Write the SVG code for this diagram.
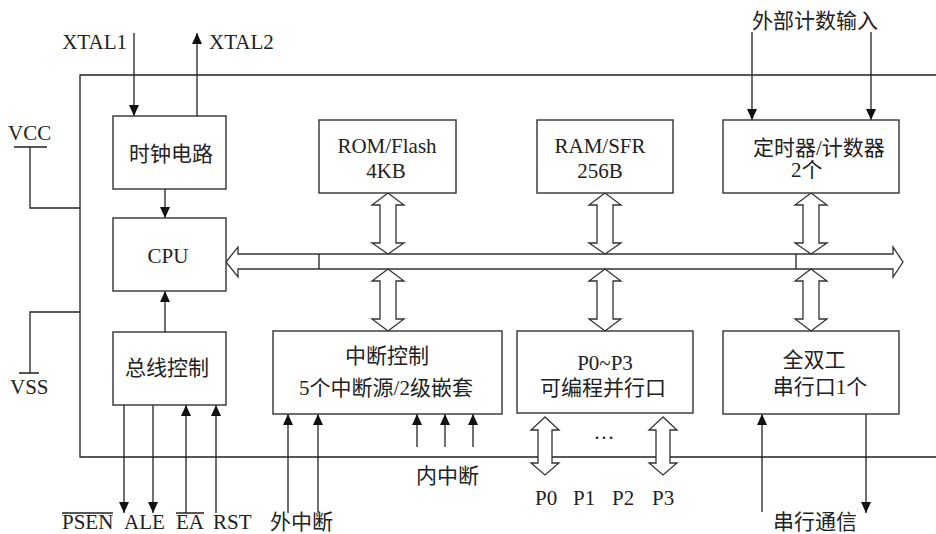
<svg xmlns="http://www.w3.org/2000/svg" width="936" height="534" viewBox="0 0 936 534">
<style>
.bx{fill:#fff;stroke:#333;stroke-width:1.4}
.ln{fill:none;stroke:#222;stroke-width:1.3}
.dar{fill:#fff;stroke:#333;stroke-width:1.3;stroke-linejoin:miter}
text{font-family:'Liberation Serif','Noto Sans CJK SC',serif;font-size:21px;fill:#222}
text.s{font-family:'Liberation Serif',serif}
.c{text-anchor:middle}
.e{text-anchor:end}
</style>
<defs>
<marker id="ah" markerUnits="userSpaceOnUse" markerWidth="12" markerHeight="11" refX="11" refY="5" orient="auto">
<path d="M0,0 L11,5 L0,10 z" fill="#111"/>
</marker>
</defs>
<rect width="936" height="534" fill="#fff"/>

<g id="frame">
<path class="ln" d="M936,75 H80 V457 H936"/>
<path class="ln" d="M14,147 H47 M30,147 V208 H80"/>
<path class="ln" d="M19,373 H39 M30,373 V312 H80"/>
</g>

<g id="bus">
<polygon class="dar" points="226,262 238,247 238,254 893,254 893,247 903,262 893,277 893,269 238,269 238,277"/>
<path class="ln" d="M319,254 V269 M796,254 V269"/>
</g>

<g id="connectors">
<path class="ln" d="M134,33 V116" marker-end="url(#ah)"/>
<path class="ln" d="M197,116 V33" marker-end="url(#ah)"/>
<path class="ln" d="M752,32 V120" marker-end="url(#ah)"/>
<path class="ln" d="M871,32 V120" marker-end="url(#ah)"/>
<path class="ln" d="M165,189 V218" marker-end="url(#ah)"/>
<path class="ln" d="M165,332 V291" marker-end="url(#ah)"/>
<path class="ln" d="M124,405 V513" marker-end="url(#ah)"/>
<path class="ln" d="M153,405 V513" marker-end="url(#ah)"/>
<path class="ln" d="M186,513 V405" marker-end="url(#ah)"/>
<path class="ln" d="M216,513 V405" marker-end="url(#ah)"/>
<path class="ln" d="M288,513 V414" marker-end="url(#ah)"/>
<path class="ln" d="M318,513 V414" marker-end="url(#ah)"/>
<path class="ln" d="M417,447 V414" marker-end="url(#ah)"/>
<path class="ln" d="M445,447 V414" marker-end="url(#ah)"/>
<path class="ln" d="M473,447 V414" marker-end="url(#ah)"/>
<path class="ln" d="M762,512 V414" marker-end="url(#ah)"/>
<path class="ln" d="M866,414 V513" marker-end="url(#ah)"/>
<polygon class="dar" points="388,193 372,205 380,205 380,243 372,243 388,254 404,243 396,243 396,205 404,205"/>
<polygon class="dar" points="605,193 589,205 597,205 597,243 589,243 605,254 621,243 613,243 613,205 621,205"/>
<polygon class="dar" points="811,193 795,205 803,205 803,243 795,243 811,254 827,243 819,243 819,205 827,205"/>
<polygon class="dar" points="388,269 372,281 380,281 380,319 372,319 388,331 404,319 396,319 396,281 404,281"/>
<polygon class="dar" points="605,269 589,281 597,281 597,319 589,319 605,331 621,319 613,319 613,281 621,281"/>
<polygon class="dar" points="811,269 795,281 803,281 803,319 795,319 811,331 827,319 819,319 819,281 827,281"/>
<polygon class="dar" points="545,417 531,430 538,430 538,463 531,463 545,475 559,463 552,463 552,430 559,430"/>
<polygon class="dar" points="663,417 649,430 656,430 656,463 649,463 663,475 677,463 670,463 670,430 677,430"/>
</g>

<g id="clock">
<rect class="bx" x="113" y="116" width="113" height="73"/>
<text class="c" x="171" y="161">时钟电路</text>
</g>
<g id="cpu">
<rect class="bx" x="113" y="218" width="113" height="73"/>
<text class="c s" x="168" y="263">CPU</text>
</g>
<g id="busctrl">
<rect class="bx" x="113" y="332" width="113" height="73"/>
<text class="c" x="167" y="375">总线控制</text>
</g>
<g id="rom">
<rect class="bx" x="319" y="120" width="137" height="73"/>
<text class="c s" x="387" y="153">ROM/Flash</text>
<text class="c s" x="386" y="178">4KB</text>
</g>
<g id="ram">
<rect class="bx" x="537" y="120" width="136" height="73"/>
<text class="c s" x="600" y="153">RAM/SFR</text>
<text class="c s" x="600" y="178">256B</text>
</g>
<g id="timer">
<rect class="bx" x="723" y="120" width="176" height="73"/>
<text x="753" y="155">定时器/计数器</text>
<text x="791" y="177">2个</text>
</g>
<g id="intctrl">
<rect class="bx" x="273" y="331" width="229" height="83"/>
<text class="c" x="387" y="363">中断控制</text>
<text class="c" x="386" y="395">5个中断源/2级嵌套</text>
</g>
<g id="pport">
<rect class="bx" x="517" y="331" width="176" height="82"/>
<text class="c s" x="605" y="370">P0~P3</text>
<text class="c" x="603" y="395">可编程并行口</text>
</g>
<g id="sport">
<rect class="bx" x="723" y="331" width="176" height="83"/>
<text class="c" x="814" y="367">全双工</text>
<text class="c" x="820" y="394">串行口1个</text>
</g>

<g id="labels">
<text class="e s" x="127" y="49">XTAL1</text>
<text class="s" x="209" y="49">XTAL2</text>
<text class="s" x="8" y="140">VCC</text>
<text class="s" x="10" y="394">VSS</text>
<text x="752" y="28">外部计数输入</text>
<text class="c s" x="604" y="439">…</text>
<text x="416" y="483">内中断</text>
<text class="s" x="535" y="505">P0</text>
<text class="s" x="573" y="505">P1</text>
<text class="s" x="612" y="505">P2</text>
<text class="s" x="652" y="505">P3</text>
<text class="s" x="62" y="529">PSEN</text>
<text class="s" x="124" y="529">ALE</text>
<text class="s" x="176" y="529">EA</text>
<text class="s" x="213" y="529">RST</text>
<path class="ln" d="M62,513 H113 M176,513 H204"/>
<text x="270" y="529">外中断</text>
<text x="773" y="529">串行通信</text>
</g>
</svg>
